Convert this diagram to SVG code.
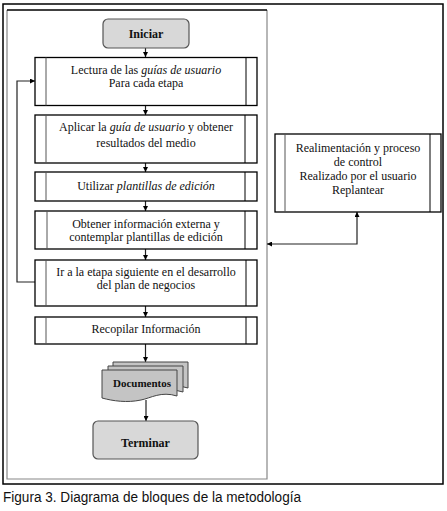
<svg xmlns="http://www.w3.org/2000/svg" width="447" height="511" viewBox="0 0 447 511">
<defs>
<style>
.t{font-family:"Liberation Serif","Times New Roman",serif;font-size:12px;fill:#111;text-anchor:middle}
.b{font-weight:bold}
.i{font-style:italic}
.box{fill:#fff;stroke:#000;stroke-width:1.3}
.il{stroke:#555;stroke-width:1}
.ir{stroke:#000;stroke-width:1}
.term{fill:#d8d8d8;stroke:#555;stroke-width:1.2}
.doc{fill:#c4c4c4;stroke:#444;stroke-width:1}
.con{fill:none;stroke:#222;stroke-width:1.2}
.cap{font-family:"Liberation Sans",Arial,sans-serif;font-size:14px;fill:#111}
</style>
<marker id="ah" viewBox="0 0 10 10" refX="10" refY="5" markerWidth="5" markerHeight="5" orient="auto-start-reverse" markerUnits="userSpaceOnUse">
<path d="M0,0 L10,5 L0,10 Z" fill="#000"/>
</marker>
</defs>
<rect width="447" height="511" fill="#fff"/>
<g id="frame">
<rect x="3" y="4" width="440" height="480" fill="none" stroke="#000" stroke-width="1.5"/>
<path d="M7,10 V479 H267 V10" fill="none" stroke="#888" stroke-width="1.2"/>
<line x1="7" y1="10" x2="267" y2="10" stroke="#000" stroke-width="1.3"/>
</g>
<g id="connectors">
<line class="con" x1="145.5" y1="48" x2="145.5" y2="57" marker-end="url(#ah)"/>
<line class="con" x1="145.5" y1="106" x2="145.5" y2="115" marker-end="url(#ah)"/>
<line class="con" x1="145.5" y1="163" x2="145.5" y2="172" marker-end="url(#ah)"/>
<line class="con" x1="145.5" y1="201" x2="145.5" y2="211" marker-end="url(#ah)"/>
<line class="con" x1="145.5" y1="249" x2="145.5" y2="260" marker-end="url(#ah)"/>
<line class="con" x1="145.5" y1="306" x2="145.5" y2="317" marker-end="url(#ah)"/>
<line class="con" x1="145.5" y1="344" x2="145.5" y2="362" stroke="#777" marker-end="url(#ah)"/>
<line class="con" x1="146" y1="400" x2="146" y2="421" stroke="#777" marker-end="url(#ah)"/>
<path class="con" d="M35,282 H17 V81 H35" marker-end="url(#ah)"/>
<path class="con" d="M357,212 V244 H267" stroke="#444" marker-start="url(#ah)" marker-end="url(#ah)"/>
</g>
<g id="iniciar">
<rect class="term" x="103" y="19" width="86" height="29" rx="5"/>
<text class="t b" x="146" y="37.5">Iniciar</text>
</g>
<g id="lectura">
<rect class="box" x="35" y="57.5" width="222" height="48"/>
<line class="il" x1="46" y1="57.5" x2="46" y2="105.5"/>
<line class="ir" x1="246" y1="57.5" x2="246" y2="105.5"/>
<text class="t" x="146" y="74">Lectura de las <tspan class="i">guías de usuario</tspan></text>
<text class="t" x="146" y="87">Para cada etapa</text>
</g>
<g id="aplicar">
<rect class="box" x="35" y="115" width="222" height="48"/>
<line class="il" x1="46" y1="115" x2="46" y2="163"/>
<line class="ir" x1="245" y1="115" x2="245" y2="163"/>
<text class="t" x="146" y="131">Aplicar la <tspan class="i">guía de usuario</tspan> y obtener</text>
<text class="t" x="146" y="146.5">resultados del medio</text>
</g>
<g id="utilizar">
<rect class="box" x="35" y="172" width="222" height="29"/>
<line class="il" x1="46" y1="172" x2="46" y2="201"/>
<line class="ir" x1="245" y1="172" x2="245" y2="201"/>
<text class="t" x="146" y="190">Utilizar <tspan class="i">plantillas de edición</tspan></text>
</g>
<g id="obtener">
<rect class="box" x="35" y="211" width="222" height="38"/>
<line class="il" x1="47" y1="211" x2="47" y2="249"/>
<line class="ir" x1="245" y1="211" x2="245" y2="249"/>
<text class="t" x="146" y="228">Obtener información externa y</text>
<text class="t" x="146" y="241">contemplar plantillas de edición</text>
</g>
<g id="ir">
<rect class="box" x="35" y="260" width="222" height="46"/>
<line class="il" x1="46" y1="260" x2="46" y2="306"/>
<line class="ir" x1="246" y1="260" x2="246" y2="306"/>
<text class="t" x="146" y="275.5">Ir a la etapa siguiente en el desarrollo</text>
<text class="t" x="146" y="288.5">del plan de negocios</text>
</g>
<g id="recopilar">
<rect class="box" x="35" y="317" width="222" height="27"/>
<line class="il" x1="46" y1="317" x2="46" y2="344"/>
<line class="ir" x1="246" y1="317" x2="246" y2="344"/>
<text class="t" x="146" y="333">Recopilar Información</text>
</g>
<g id="documentos">
<path class="doc" d="M113,362 H188 V388 C172,383 162,390 152,392 C138,395 124,393 113,390 Z"/>
<path class="doc" d="M108,366 H183 V392 C167,387 157,394 147,396 C133,399 119,397 108,394 Z"/>
<path class="doc" d="M102,370 H177 V396 C161,391 151,398 141,400 C127,403 113,401 102,398 Z"/>
<text class="t b" x="142" y="387" style="font-size:11px">Documentos</text>
</g>
<g id="terminar">
<rect class="term" x="93" y="421" width="105" height="38" rx="5"/>
<text class="t b" x="145.5" y="447">Terminar</text>
</g>
<g id="realimentacion">
<rect class="box" x="275" y="134" width="166" height="78"/>
<line class="il" x1="285" y1="134" x2="285" y2="212"/>
<line class="ir" x1="430" y1="134" x2="430" y2="212"/>
<text class="t" x="358" y="152">Realimentación y proceso</text>
<text class="t" x="358" y="166">de control</text>
<text class="t" x="358" y="180">Realizado por el usuario</text>
<text class="t" x="358" y="194">Replantear</text>
</g>
<text class="cap" x="3" y="502" textLength="298" lengthAdjust="spacingAndGlyphs">Figura 3. Diagrama de bloques de la metodología</text>
</svg>
